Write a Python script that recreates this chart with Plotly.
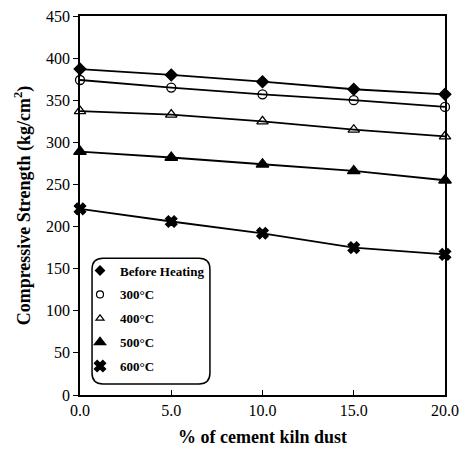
import plotly.graph_objects as go

x_vals = [0, 5, 10, 15, 20]
before_heating = [387, 380, 372, 363, 357]
t300 = [374, 365, 357, 350, 342]
t400 = [337, 333, 325, 315, 307]
t500 = [289, 282, 274, 266, 255]
t600 = [221, 206, 192, 175, 167]

series = [
    ("Before Heating", before_heating, "diamond", 9, 7),
    ("300°C", t300, "circle-open", 9, 7),
    ("400°C", t400, "triangle-up-open", 10, 7),
    ("500°C", t500, "triangle-up", 11, 10),
    ("600°C", t600, "x", 10, 10),
]

x_ticks = [0, 5, 10, 15, 20]
x_tick_labels = ["0.0", "5.0", "10.0", "15.0", "20.0"]
y_ticks = [0, 50, 100, 150, 200, 250, 300, 350, 400, 450]

serif = "Liberation Serif"

fig = go.Figure()
for i, (name, vals, sym, size, lsize) in enumerate(series):
    fig.add_trace(go.Scatter(
        x=x_vals, y=vals, name=name, mode="lines+markers",
        line=dict(color="black", width=1.8),
        marker=dict(symbol=sym, size=size, color="black",
                    line=dict(color="black", width=1.3)),
        cliponaxis=False, showlegend=False,
    ))
for i, (name, vals, sym, size, lsize) in enumerate(series):
    fig.add_trace(go.Scatter(
        x=[None], y=[None], name=name, mode="markers",
        marker=dict(symbol=sym, size=lsize, color="black",
                    line=dict(color="black", width=1.2)),
        showlegend=True, legendgroup=f"g{i}",
    ))

fig.update_layout(
    width=460, height=454,
    margin=dict(l=80, r=15, t=16, b=59, autoexpand=False),
    paper_bgcolor="white", plot_bgcolor="white",
    font=dict(family=serif, color="black", size=16),
    showlegend=True,
    legend=dict(
        x=0.0, y=0.368, xanchor="left", yanchor="top",
        bgcolor="rgba(0,0,0,0)", borderwidth=0,
        font=dict(family=serif, size=13, color="black", weight="bold"),
        tracegroupgap=4,
    ),
    xaxis=dict(
        range=[0, 20], tickvals=x_ticks, ticktext=x_tick_labels,
        showgrid=False, zeroline=False, showline=True, linecolor="black",
        linewidth=1.5, mirror=True, ticks="inside", ticklen=5,
        tickcolor="black", tickfont=dict(size=16, family=serif),
        automargin=False, ticklabeloverflow="allow",
        title=dict(text="<b>% of cement kiln dust</b>", font=dict(size=18, family=serif), standoff=12),
    ),
    yaxis=dict(
        range=[0, 450], tickvals=y_ticks,
        showgrid=False, zeroline=False, showline=True, linecolor="black",
        linewidth=1.5, mirror=True, ticks="outside", ticklen=5,
        tickcolor="black", tickfont=dict(size=16, family=serif),
        automargin=False, ticklabeloverflow="allow",
        title=dict(text="<b>Compressive Strength (kg/cm<sup>2</sup>)</b>", font=dict(size=18, family=serif), standoff=11),
    ),
)

# rounded legend frame
x0, x1, y0, y1, r = 0.033, 0.356, 0.029, 0.361, 0.03
ry = r * 365 / 379
path = (f"M {x0+r},{y0} L {x1-r},{y0} Q {x1},{y0} {x1},{y0+ry} "
        f"L {x1},{y1-ry} Q {x1},{y1} {x1-r},{y1} L {x0+r},{y1} "
        f"Q {x0},{y1} {x0},{y1-ry} L {x0},{y0+ry} Q {x0},{y0} {x0+r},{y0} Z")
fig.add_shape(type="path", path=path, xref="paper", yref="paper",
              line=dict(color="black", width=1.5))

# remove the default 8px page margin so the figure fills the window exactly
fig.write_html("out.html",
               config={"displayModeBar": False},
               post_script="document.body.style.margin='0';document.body.style.overflow='hidden';")
